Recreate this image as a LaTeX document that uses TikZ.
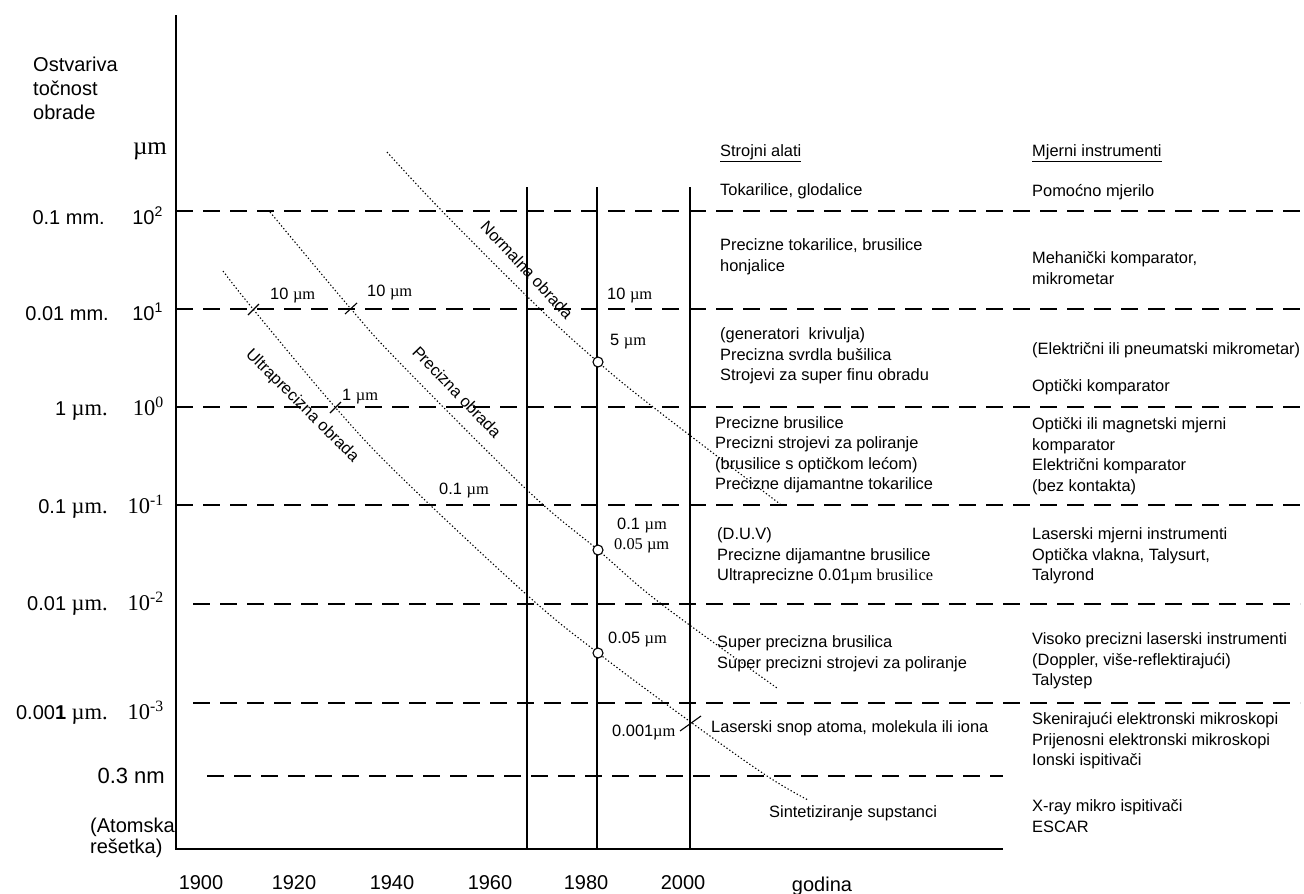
\documentclass[tikz,border=0pt]{standalone}
\usepackage{fontspec}
\setmainfont{Liberation Sans}
\newfontfamily\tms{Liberation Serif}
\newcommand\myum{{\tms µm}}
\begin{document}
\begin{tikzpicture}[x=1pt,y=-1pt,
  gridline/.style={line width=2pt, dash pattern=on 17pt off 10pt},
  curve/.style={line width=1.1pt, dash pattern=on 1.3pt off 2.2pt},
  vline/.style={line width=1.3pt},
  axis/.style={line width=1.5pt},
  small/.style={font=\fontsize{16.4}{20.5}\selectfont, inner sep=0pt, align=left},
  lbl/.style={small, anchor=west},
  big/.style={font=\fontsize{20}{24}\selectfont, inner sep=0pt},
  sf/.style={font=\fontsize{22.5}{24}\selectfont\tms, inner sep=0pt},
  tickmark/.style={line width=1.1pt},
  ptmark/.style={circle, draw, fill=white, minimum size=10pt, inner sep=0pt, line width=1.1pt},
]
\useasboundingbox (0,0) rectangle (1304,894);

% axes
\coordinate (yTop) at (176,15);
\coordinate (origin) at (176,849);
\coordinate (xEnd) at (1003,849);
\draw[axis] (yTop) -- (origin) -- (xEnd);

% horizontal dashed levels
\draw[gridline] (176,211) -- (1304,211);
\draw[gridline] (176,309) -- (1304,309);
\draw[gridline] (176,407) -- (1304,407);
\draw[gridline] (176,505) -- (1304,505);
\draw[gridline] (193,604) -- (1300,604);
\draw[gridline] (193,703) -- (1300,703);
\draw[gridline] (207,776) -- (1003,776);

% vertical year lines
\draw[vline] (527,187) -- (527,849);
\draw[vline] (597,187) -- (597,849);
\draw[vline] (690,187) -- (690,849);

% curves
\draw[curve] plot[smooth, tension=0.6] coordinates {(387,152) (442,211) (540,309) (598,362) (653,407) (780,504)};
\draw[curve] plot[smooth, tension=0.6] coordinates {(270,212) (351,309) (400,363) (527,490) (598,550) (660,603) (777,688)};
\draw[curve] plot[smooth, tension=0.6] coordinates {(223,271) (253,309) (335,407) (400,476) (527,595) (598,653) (692,723) (767,776) (808,800)};

% tick crosses
\draw[tickmark] (248,315) -- (259,304);
\draw[tickmark] (345,314) -- (357,303);
\draw[tickmark] (330,413) -- (341,402);
\draw[tickmark] (680,731) -- (701,716);

% circles
\node[ptmark] (c1) at (598,362) {};
\node[ptmark] (c2) at (598,550) {};
\node[ptmark] (c3) at (598,653) {};

% rotated curve labels
\node[small, rotate=-47] (tn) at (527,270) {Normalna obrada};
\node[small, rotate=-46] (tp) at (457,392) {Precizna obrada};
\node[small, rotate=-45] (tu) at (302,406) {Ultraprecizna obrada};

% chart value labels
\node[lbl] (v1) at (270,296) {10 \myum};
\node[lbl] (v2) at (367,293) {10 \myum};
\node[lbl] (v3) at (342,397) {1 \myum};
\node[lbl] (v4) at (607,296) {10 \myum};
\node[lbl] (v5) at (610,342) {5 \myum};
\node[lbl] (v6) at (439,491) {0.1 \myum};
\node[lbl] (v7) at (617,526) {0.1 \myum};
\node[lbl] (v8) at (614,546) {\tms 0.05 µm};
\node[lbl] (v9) at (608,640) {0.05 \myum};
\node[lbl] (v10) at (612,733) {0.001\myum};

% left axis labels
\node[big, anchor=base west] (h1) at (33,71) {Ostvariva};
\node[big, anchor=base west] (h2) at (33,95) {točnost};
\node[big, anchor=base west] (h3) at (33,119) {obrade};
\node[inner sep=0pt, anchor=base, font=\fontsize{25}{25}\selectfont\tms] (hu) at (150,154) {µm};

\node[big, anchor=base east] (l1) at (105,224) {0.1 mm.};
\node[big, anchor=base east] (e1) at (163,224) {10\textsuperscript{2}};
\node[big, anchor=base east] (l2) at (109,320) {0.01 mm.};
\node[big, anchor=base east] (e2) at (163,320) {10\textsuperscript{1}};
\node[big, anchor=base east] (l3) at (108,415) {1 {\fontsize{22.5}{24}\selectfont\tms µm.}};
\node[sf, anchor=base east] (e3) at (164,415) {10\textsuperscript{0}};
\node[big, anchor=base east] (l4) at (108,513) {0.1 {\fontsize{22.5}{24}\selectfont\tms µm.}};
\node[sf, anchor=base east] (e4) at (164,513) {10\textsuperscript{-1}};
\node[big, anchor=base east] (l5) at (108,610) {0.01 {\fontsize{22.5}{24}\selectfont\tms µm.}};
\node[sf, anchor=base east] (e5) at (164,610) {10\textsuperscript{-2}};
\node[big, anchor=base east] (l6) at (108,719) {0.00\textbf{1} {\fontsize{22.5}{24}\selectfont\tms µm.}};
\node[sf, anchor=base east] (e6) at (164,719) {10\textsuperscript{-3}};
\node[inner sep=0pt, anchor=base east, font=\fontsize{22}{24}\selectfont] (l7) at (165,783) {0.3 nm};
\node[big, anchor=base west] (l8) at (90,832) {(Atomska};
\node[big, anchor=base west] (l9) at (90,853) {rešetka)};

% year labels
\node[big, anchor=base] (y1) at (201,889) {1900};
\node[big, anchor=base] (y2) at (294,889) {1920};
\node[big, anchor=base] (y3) at (392,889) {1940};
\node[big, anchor=base] (y4) at (490,889) {1960};
\node[big, anchor=base] (y5) at (586,889) {1980};
\node[big, anchor=base] (y6) at (683,889) {2000};
\node[big, anchor=base] (y7) at (822,891) {godina};

% column: Strojni alati
\node[lbl] (s0) at (720,153) {\underline{Strojni alati}};
\node[lbl] (s1) at (720,191) {Tokarilice, glodalice};
\node[lbl] (s2) at (720,257) {Precizne tokarilice, brusilice\\honjalice};
\node[lbl] (s3) at (720,356) {(generatori\ \ krivulja)\\Precizna svrdla bušilica\\Strojevi za super finu obradu};
\node[lbl] (s4) at (715,455) {Precizne brusilice\\Precizni strojevi za poliranje\\(brusilice s optičkom lećom)\\Precizne dijamantne tokarilice};
\node[lbl] (s5) at (717,556) {(D.U.V)\\Precizne dijamantne brusilice\\Ultraprecizne 0.01{\tms µm brusilice}};
\node[lbl] (s6) at (717,654) {Super precizna brusilica\\Super precizni strojevi za poliranje};
\node[lbl] (s7) at (711,728) {Laserski snop atoma, molekula ili iona};
\node[lbl] (s8) at (769,813) {Sintetiziranje supstanci};

% column: Mjerni instrumenti
\node[lbl] (m0) at (1032,153) {\underline{Mjerni instrumenti}};
\node[lbl] (m1) at (1032,192) {Pomoćno mjerilo};
\node[lbl] (m2) at (1032,268) {Mehanički komparator,\\mikrometar};
\node[lbl] (m3) at (1032,350) {(Električni ili pneumatski mikrometar)};
\node[lbl] (m4) at (1032,387) {Optički komparator};
\node[lbl] (m5) at (1032,456) {Optički ili magnetski mjerni\\komparator\\Električni komparator\\(bez kontakta)};
\node[lbl] (m6) at (1032,556) {Laserski mjerni instrumenti\\Optička vlakna, Talysurt,\\Talyrond};
\node[lbl] (m7) at (1032,661) {Visoko precizni laserski instrumenti\\(Doppler, više-reflektirajući)\\Talystep};
\node[lbl] (m8) at (1032,741) {Skenirajući elektronski mikroskopi\\Prijenosni elektronski mikroskopi\\Ionski ispitivači};
\node[lbl] (m9) at (1032,816) {X-ray mikro ispitivači\\ESCAR};
\end{tikzpicture}
\end{document}
